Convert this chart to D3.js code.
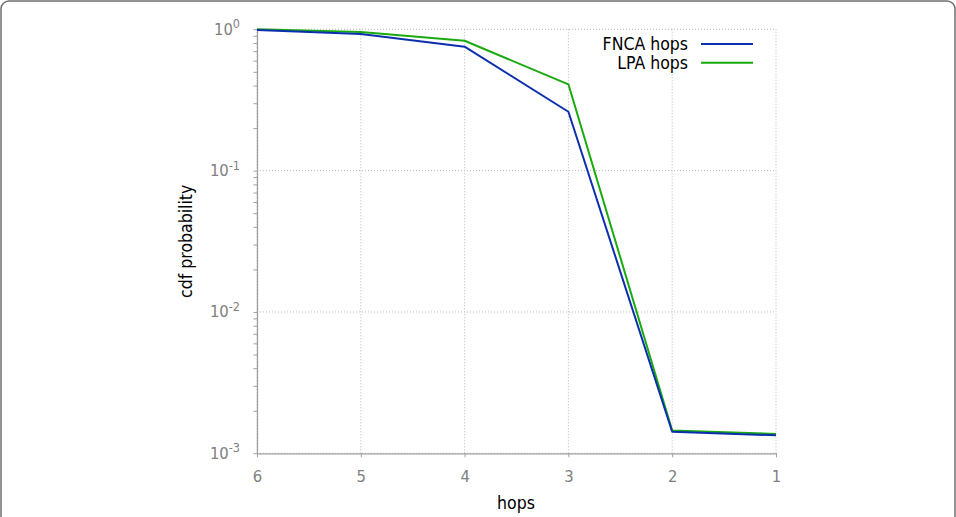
<!DOCTYPE html>
<html>
<head>
<meta charset="utf-8">
<script src="https://cdn.jsdelivr.net/npm/d3@7/dist/d3.min.js"></script>
<style>
  body { margin: 0; background: #fff; }
  svg { display: block; font-family: "DejaVu Sans Condensed", "DejaVu Sans", sans-serif; font-stretch: condensed; }
</style>
</head>
<body>
<svg id="chart" width="956" height="517"></svg>
<script>
// hops on x axis (reversed), cdf probability on log y axis
var hops = [6, 5, 4, 3, 2, 1]
var fncaHops = [0.99, 0.926, 0.753, 0.261, 0.00142, 0.00134]
var lpaHops = [1.0, 0.957, 0.83, 0.408, 0.00145, 0.00137]
var seriesNames = ['FNCA hops', 'LPA hops']
var seriesColors = ['#0b2fae', '#1aaa10']
var yTickExps = [0, -1, -2, -3]

var svg = d3.select('#chart')
var m = {left: 257, right: 776, top: 29.3, bottom: 453.3}

// outer frame
svg.append('rect')
    .attr('x', 1).attr('y', 1).attr('width', 954).attr('height', 560)
    .attr('rx', 8).attr('ry', 8)
    .attr('fill', 'none').attr('stroke', '#707070').attr('stroke-width', 1.5)

var x = d3.scaleLinear().domain([6, 1]).range([m.left, m.right])
var y = d3.scaleLog().domain([1e-3, 1]).range([m.bottom, m.top])

var grid = svg.append('g').attr('stroke', '#b8b8b8').attr('stroke-dasharray', '1,2').attr('stroke-width', 1)
hops.forEach(function(h) {
    grid.append('line')
        .attr('x1', x(h)).attr('x2', x(h))
        .attr('y1', m.top).attr('y2', m.bottom)
})
yTickExps.forEach(function(e) {
    grid.append('line')
        .attr('x1', m.left).attr('x2', m.right)
        .attr('y1', y(Math.pow(10, e))).attr('y2', y(Math.pow(10, e)))
})

// axes
var xAxis = svg.append('g')
    .attr('transform', 'translate(0,' + m.bottom + ')')
    .call(d3.axisBottom(x).tickValues(hops).tickFormat(d3.format('d')).tickSizeInner(4).tickSizeOuter(0))
var minor = []
for (var k = -3; k < 0; k++) for (var j = 2; j <= 9; j++) minor.push(j * Math.pow(10, k))
var yAxis = svg.append('g')
    .attr('transform', 'translate(' + m.left + ',0)')
    .call(d3.axisLeft(y).tickValues(yTickExps.map(function(e) { return Math.pow(10, e) }).concat(minor))
        .tickFormat('').tickSizeInner(3.5).tickSizeOuter(0))
;[xAxis, yAxis].forEach(function(a) {
    a.attr('font-family', null).attr('font-size', null)
    a.select('.domain').attr('stroke', '#a0a0a0').attr('stroke-width', 1.3)
    a.selectAll('.tick line').attr('stroke', '#a0a0a0')
})
xAxis.selectAll('.tick text')
    .attr('fill', '#808080').style('font-size', '16.5px').attr('dy', null).attr('y', 29)

// y tick labels 10^e
yTickExps.forEach(function(e) {
    var t = svg.append('text')
        .attr('x', 240).attr('y', y(Math.pow(10, e)) + 5.5)
        .attr('text-anchor', 'end').attr('fill', '#808080').style('font-size', '16.5px')
    t.append('tspan').text('10')
    t.append('tspan').attr('dy', -6.5).style('font-size', '12.5px').text(String(e))
})

// axis titles
svg.append('text').attr('x', 516).attr('y', 509).attr('text-anchor', 'middle')
    .style('font-size', '17.5px').attr('fill', '#000').text('hops')
svg.append('text')
    .attr('transform', 'translate(192,' + ((m.top + m.bottom) / 2) + ') rotate(-90)')
    .attr('text-anchor', 'middle').style('font-size', '17.5px').attr('fill', '#000').text('cdf probability')

// lines
var line = d3.line()
    .x(function(d) { return x(d[0]) })
    .y(function(d) { return y(d[1]) })
;[lpaHops, fncaHops].forEach(function(vals, i) {
    var idx = i === 0 ? 1 : 0
    svg.append('path')
        .datum(hops.map(function(h, k) { return [h, vals[k]] }))
        .attr('d', line)
        .attr('fill', 'none')
        .attr('stroke', seriesColors[idx])
        .attr('stroke-width', 2)
        .attr('stroke-linejoin', 'round')
})

// legend
var legend = svg.append('g')
seriesNames.forEach(function(name, i) {
    var ly = 44 + i * 18.7
    legend.append('text').attr('x', 688).attr('y', ly + 6).attr('text-anchor', 'end')
        .style('font-size', '17.5px').attr('fill', '#000').text(name)
    legend.append('line').attr('x1', 701).attr('x2', 753).attr('y1', ly).attr('y2', ly)
        .attr('stroke', seriesColors[i]).attr('stroke-width', 2)
})
</script>
</body>
</html>
